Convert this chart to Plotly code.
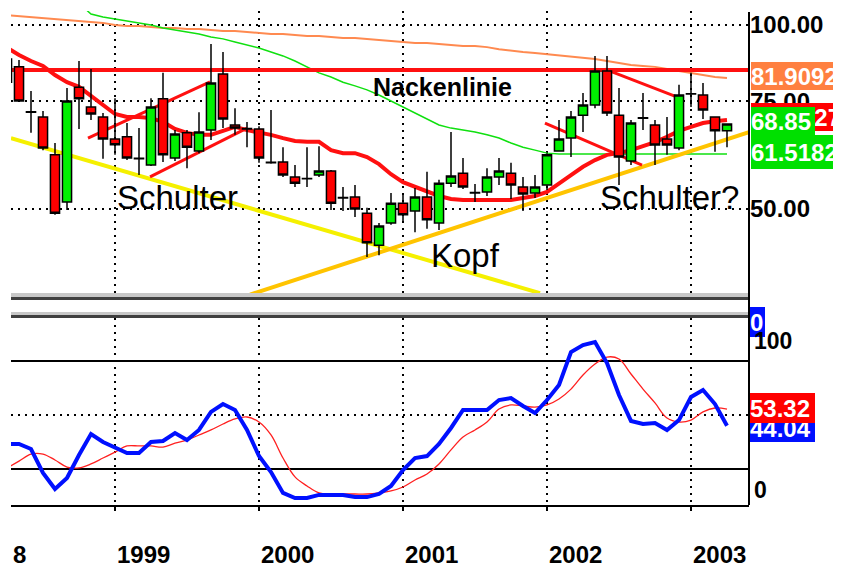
import plotly.graph_objects as go

# ---------------- data (month index: 0 = Jan 1999) ----------------
months = list(range(-9, 52))
opens = [88.0, 85.4, 72.1, 70.7, 61.3, 51.3, 79.1, 73.4, 70.7, 65.1,
         65.6, 60.5, 59.0, 75.7, 60.6, 66.6, 62.2, 67.3, 83.1, 68.6,
         67.7, 67.6, 59.6, 59.7, 56.4, 56.1, 56.8, 57.7, 52.2, 52.3,
         49.2, 43.6, 47.4, 51.1, 49.6, 52.3, 47.4, 55.1, 57.2, 53.2,
         53.3, 56.4, 57.2, 54.3, 53.1, 54.7, 62.2, 65.3, 71.2, 74.0,
         84.1, 71.2, 59.9, 70.5, 68.6, 65.1, 62.9, 77.2, 76.8, 70.7,
         67.1]
highs = [89.0, 87.6, 78.0, 72.3, 64.1, 78.9, 87.3, 84.7, 71.8, 75.9,
         69.1, 67.8, 75.9, 83.5, 67.3, 67.3, 72.0, 93.1, 90.3, 73.1,
         69.4, 68.3, 72.6, 63.1, 59.0, 63.1, 63.3, 57.9, 54.3, 54.7,
         50.2, 47.4, 53.1, 53.1, 54.1, 57.5, 55.8, 66.8, 60.6, 54.9,
         58.3, 60.6, 59.5, 56.4, 56.8, 61.7, 69.9, 72.3, 77.4, 89.0,
         89.0, 78.9, 69.9, 77.4, 69.9, 70.7, 79.8, 83.5, 80.4, 70.9,
         68.9]
lows = [79.5, 74.8, 66.6, 62.4, 48.9, 49.8, 67.6, 69.9, 60.4, 61.3,
        60.1, 56.8, 58.8, 59.7, 59.9, 58.3, 61.7, 64.8, 67.8, 66.1,
        63.1, 59.5, 59.3, 56.4, 54.3, 54.3, 56.4, 49.8, 49.6, 48.5,
        41.7, 42.0, 47.1, 47.6, 45.8, 46.4, 46.2, 54.3, 53.9, 51.3,
        52.5, 54.7, 51.9, 49.6, 52.1, 53.7, 62.0, 60.8, 66.8, 73.1,
        71.0, 54.7, 59.0, 67.3, 59.0, 61.3, 62.4, 73.4, 70.2, 62.0,
        63.1]
closes = [80.6, 75.1, 72.0, 62.9, 49.2, 75.1, 75.7, 71.5, 65.1, 63.7,
          60.6, 60.4, 73.4, 61.3, 66.3, 63.1, 66.8, 80.4, 70.2, 67.8,
          67.6, 60.6, 59.5, 56.8, 55.1, 56.0, 57.7, 51.1, 52.1, 50.0,
          44.0, 46.9, 51.1, 48.9, 52.3, 48.0, 55.1, 56.6, 54.3, 53.1,
          56.4, 57.7, 54.7, 52.9, 54.3, 61.3, 65.1, 70.7, 74.0, 84.1,
          71.8, 60.8, 69.1, 70.4, 63.6, 63.6, 76.8, 77.1, 72.6, 67.1,
          68.85]

ma_long = [103.8, 103.4, 103.1, 102.7, 102.3, 101.9, 101.5, 101.1, 100.8, 100.0,
           99.6, 99.6, 99.2, 98.9, 98.9, 98.5, 98.5, 98.1, 97.8, 97.8,
           97.4, 97.0, 96.7, 96.7, 96.3, 95.9, 95.9, 95.6, 95.2, 95.2,
           94.9, 94.5, 94.1, 93.8, 93.4, 93.4, 93.1, 92.7, 92.4, 92.4,
           92.0, 91.3, 90.7, 90.3, 90.0, 89.6, 89.3, 89.0, 88.6, 88.0,
           87.3, 86.7, 86.0, 85.7, 85.4, 84.7, 84.1, 83.5, 82.8, 82.2,
           81.9]
ma_mid_months = list(range(-3, 52))
ma_mid = [108.6, 104.2, 103.1, 102.3, 101.5, 100.8, 100.0, 98.9, 98.1, 97.4,
          96.7, 95.6, 94.9, 93.8, 92.7, 91.7, 90.3, 89.0, 87.3, 85.4,
          83.5, 82.2, 80.6, 79.5, 78.3, 76.8, 75.1, 73.4, 71.8, 70.2,
          68.6, 67.8, 67.3, 66.8, 66.1, 65.3, 64.1, 63.1, 62.4, 61.7,
          61.5, 61.5, 61.5, 61.5, 61.5, 61.5, 61.5, 61.5, 61.5, 61.5,
          61.5, 61.5, 61.5, 61.5, 61.5]
ma_short = [91.8, 89.3, 87.3, 85.7, 82.8, 80.6, 79.2, 76.5, 73.7, 71.5,
            70.7, 70.7, 70.4, 69.4, 67.6, 66.6, 66.1, 66.1, 67.1, 68.1,
            67.3, 66.8, 66.1, 65.3, 64.6, 64.4, 64.4, 62.4, 61.7, 61.7,
            60.8, 59.2, 57.0, 55.3, 54.3, 53.3, 52.5, 51.9, 51.7, 51.7,
            51.7, 51.7, 51.7, 52.1, 52.5, 53.3, 55.1, 56.8, 58.6, 60.1,
            61.3, 61.7, 62.4, 63.4, 64.3, 65.6, 67.1, 68.1, 69.1, 69.6,
            69.9]

# drawn chart-pattern lines: (months, prices)
neck_x, neck_y = [-8.67, 52.83], [84.4, 84.4]
ls_upper_x, ls_upper_y = [-2.25, 7.92], [65.3, 80.7]
ls_lower_x, ls_lower_y = [2.92, 11.0], [56.4, 67.8]
rs_lower_x, rs_lower_y = [35.83, 43.92], [69.1, 59.0]
rs_upper_x, rs_upper_y = [40.83, 47.08], [84.7, 75.9]
trend_dn_x, trend_dn_y = [-8.67, 35.42], [65.3, 36.4]
trend_up_x, trend_up_y = [11.25, 52.83], [36.2, 66.8]

osc_k = [33.9, 33.9, 31.1, 17.8, 8.9, 15.0, 27.8, 39.4, 35.0, 32.2,
         28.9, 28.9, 35.0, 35.6, 40.0, 36.1, 41.7, 51.7, 56.1, 52.8,
         41.7, 27.2, 18.3, 6.7, 3.9, 3.9, 5.6, 5.6, 5.6, 4.4,
         4.4, 6.1, 10.6, 19.4, 26.1, 27.2, 33.9, 42.8, 52.8, 52.8,
         52.8, 58.3, 59.4, 55.0, 51.1, 58.3, 66.7, 85.0, 88.9, 90.6,
         78.9, 61.1, 46.7, 45.0, 45.6, 41.7, 47.2, 60.0, 63.9, 56.1,
         44.0]
osc_d = [20.6, 24.4, 28.3, 28.3, 25.0, 21.1, 20.6, 22.8, 26.1, 29.4,
         32.8, 32.8, 32.8, 32.2, 34.4, 36.1, 38.9, 41.7, 45.0, 47.8,
         48.9, 46.1, 38.9, 26.1, 15.6, 10.6, 6.7, 6.1, 6.1, 6.1,
         6.1, 6.7, 7.8, 10.0, 13.9, 17.2, 22.8, 30.6, 37.8, 41.7,
         46.1, 53.3, 55.6, 55.0, 54.4, 55.6, 58.9, 64.4, 72.2, 78.3,
         82.2, 81.1, 72.8, 64.4, 56.7, 48.3, 46.1, 47.2, 51.7, 53.9,
         53.3]
osc_levels = [80, 20]

year_pos = [0, 12, 24, 36, 48]
year_labels = ["1999", "2000", "2001", "2002", "2003"]
price_ticks = [50, 75, 100]
price_ticktext = ["50.00", "75.00", "100.00"]

# ---------------- layout helpers (page pixel -> paper) ----------------
OFF = 8                      # default page margin of the html body
L, R, T, B = 11, 749, 11, 505
W, H = 841 - OFF, 567 - OFF
def px(x):
    return (x - L) / (R - L)
def py(y):
    return (B - y) / (B - T)

FONT = "Liberation Sans, Arial, sans-serif"
DOTS = "2px,5px"

fig = go.Figure()

def line(x, y, color, width, yaxis="y", shape="linear"):
    fig.add_trace(go.Scatter(x=x, y=y, mode="lines", yaxis=yaxis,
                             line=dict(color=color, width=width, shape=shape),
                             hoverinfo="skip", showlegend=False))

line(months, ma_long, "#FF8A50", 2)
line(ma_mid_months, ma_mid, "#10E010", 1.5)
line(trend_dn_x, trend_dn_y, "#F5F000", 4)
line(trend_up_x, trend_up_y, "#FFC400", 4)
line(neck_x, neck_y, "#FF1010", 4)
line(ls_upper_x, ls_upper_y, "#FF1010", 3)
line(ls_lower_x, ls_lower_y, "#FF1010", 3)
line(rs_lower_x, rs_lower_y, "#FF1010", 3)
line(rs_upper_x, rs_upper_y, "#FF1010", 3)
line(months, ma_short, "#FF1010", 4)

fig.add_trace(go.Candlestick(
    x=months, open=opens, high=highs, low=lows, close=closes, yaxis="y3",
    increasing=dict(fillcolor="#00F000", line=dict(color="black", width=1.5)),
    decreasing=dict(fillcolor="#FF0000", line=dict(color="black", width=1.5)),
    whiskerwidth=0, hoverinfo="skip", showlegend=False))

line(months, osc_d, "#FF2020", 1.3, yaxis="y2", shape="spline")
line(months, osc_k, "#0010FF", 4, yaxis="y2")

logrange = [1.5581, 2.0229]

shapes = []
for lv in osc_levels:
    shapes.append(dict(type="line", xref="paper", x0=0, x1=1, yref="y2", y0=lv, y1=lv,
                       line=dict(color="black", width=2), layer="below"))
# splitter bars between panels
for (y0, y1, c) in [(293, 297, "#C8C8C8"), (297, 300, "#404040"),
                    (312, 315, "#C8C8C8"), (315, 318, "#404040")]:
    shapes.append(dict(type="rect", xref="paper", yref="paper", x0=0, x1=1,
                       y0=py(y1), y1=py(y0), fillcolor=c, line=dict(width=0)))
shapes.append(dict(type="line", xref="paper", yref="paper", x0=1, x1=1,
                   y0=0, y1=py(12), line=dict(color="black", width=2)))

ann = []
def text(x, y, s, size, bold=False, color="black", xanchor="center"):
    ann.append(dict(xref="paper", yref="paper", x=px(x), y=py(y), text=s,
                    showarrow=False, xanchor=xanchor, yanchor="middle",
                    font=dict(family=FONT, size=size, color=color,
                              weight="bold" if bold else "normal")))

def box(x, ytop, w, h, s, bg, color="white", align="left", size=24):
    ann.append(dict(xref="paper", yref="paper", x=px(x), y=py(ytop), text=s,
                    showarrow=False, xanchor="left", yanchor="top",
                    width=w, height=h, align=align, valign="middle",
                    bgcolor=bg, borderpad=0, borderwidth=0,
                    font=dict(family=FONT, size=size, color=color, weight="bold")))

text(442, 87, "Nackenlinie", 25, bold=True)
text(177, 198, "Schulter", 33)
text(465, 255, "Kopf", 33)
text(669, 198, "Schulter?", 33)

box(751, 62, 95, 28, "81.9092", "#FF8040")
box(751, 103, 90, 28, "27", "#FF0000", align="right")
box(751, 107, 64, 28, "68.85", "#00E000")
box(751, 135, 95, 34, "61.5182", "#00E000")
box(750, 414, 65, 28, "44.04", "#0010FF")
box(750, 393, 65, 30, "53.32", "#FF0000")
box(750, 307, 15, 30, "0", "#0010FF")
text(752, 341, "100", 23, bold=True, xanchor="left")
text(752, 490, "0", 23, bold=True, xanchor="left")

for m, lab in zip(year_pos, year_labels):
    ann.append(dict(xref="x", yref="paper", x=m, y=py(554), text=lab, showarrow=False,
                    xanchor="left", yanchor="middle",
                    font=dict(family=FONT, size=24, color="black", weight="bold")))
text(11, 554, "8", 24, bold=True, xanchor="left")

fig.update_layout(
    width=W, height=H,
    margin=dict(l=L - OFF, r=841 - R, t=T - OFF, b=567 - B),
    paper_bgcolor="white", plot_bgcolor="white",
    showlegend=False, boxgap=0.2, boxgroupgap=0.05,
    xaxis=dict(range=[-8.667, 52.833], anchor="y2", domain=[0, 1],
               tickvals=[-12] + year_pos, showticklabels=False,
               showgrid=True, gridcolor="black", griddash=DOTS, gridwidth=2,
               showline=True, linecolor="black", linewidth=2,
               ticks="outside", ticklen=4, tickwidth=2, tickcolor="black",
               zeroline=False, rangeslider=dict(visible=False), fixedrange=True),
    yaxis=dict(type="log", range=logrange, domain=[py(295), 1], side="right",
               tickvals=price_ticks, ticktext=price_ticktext,
               tickfont=dict(family=FONT, size=24, color="black", weight="bold"),
               showgrid=True, gridcolor="black", griddash=DOTS, gridwidth=2,
               zeroline=False, showline=False, ticks=""),
    yaxis3=dict(type="log", range=logrange, overlaying="y", visible=False),
    yaxis2=dict(range=[0, 103.9], domain=[0, py(318)], side="right",
                tickvals=[50], showticklabels=False,
                showgrid=True, gridcolor="black", griddash=DOTS, gridwidth=2,
                zeroline=False, showline=False, ticks=""),
    shapes=shapes, annotations=ann,
)

fig.write_html("out.html")
